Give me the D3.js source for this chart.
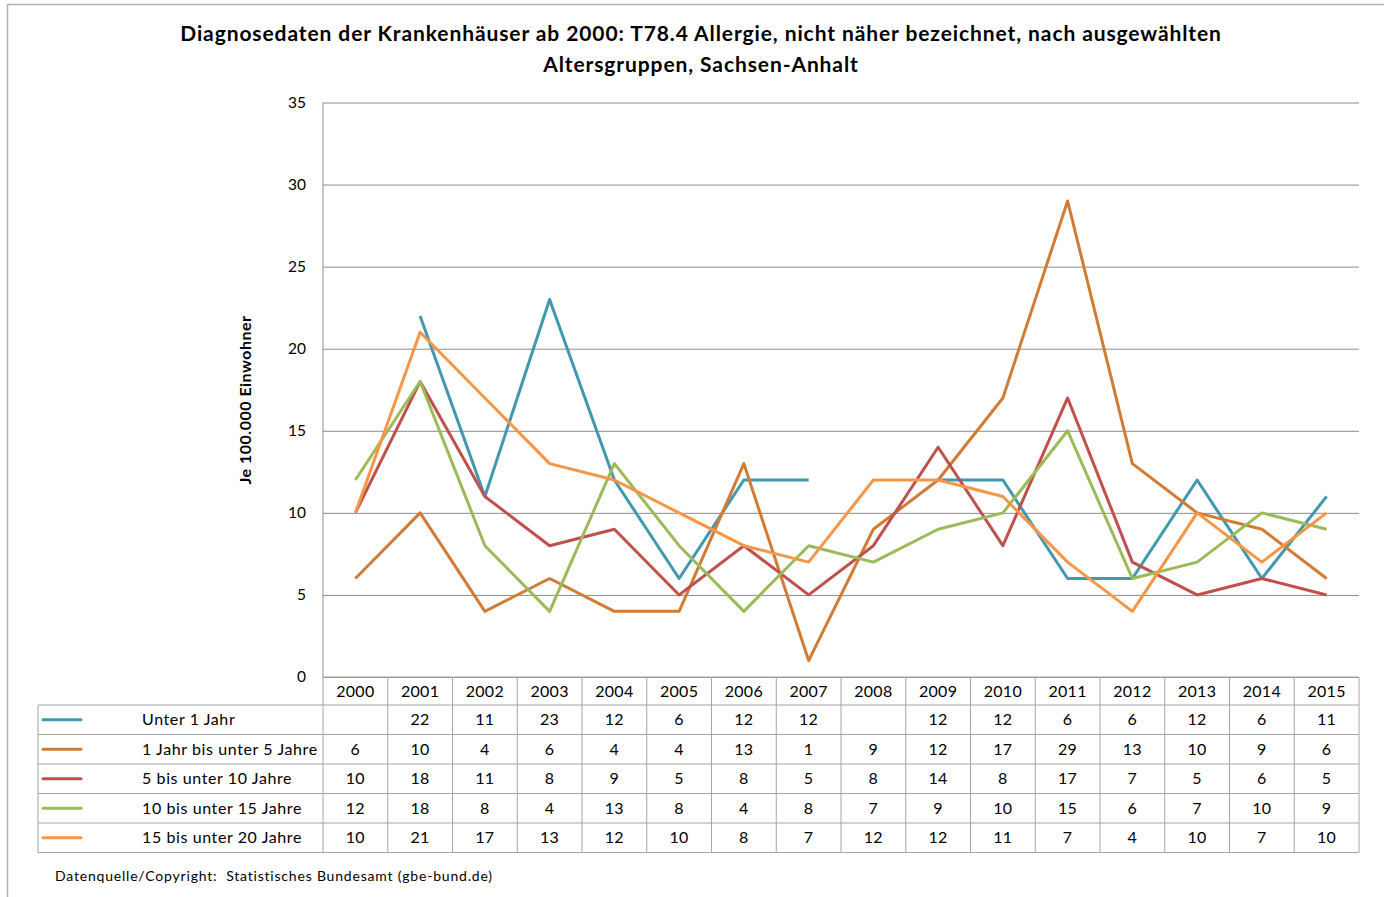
<!DOCTYPE html>
<html><head><meta charset="utf-8">
<script src="https://cdn.jsdelivr.net/npm/d3@7"></script>
<style>
html,body{margin:0;padding:0;background:#fff;}
svg text{font-family:Lato,"Open Sans",sans-serif;}
</style></head>
<body><svg id="chart" width="1384" height="897"></svg>
<script>
const years = ["2000","2001","2002","2003","2004","2005","2006","2007","2008","2009","2010","2011","2012","2013","2014","2015"];
const seriesNames = ["Unter 1 Jahr","1 Jahr bis unter 5 Jahre","5 bis unter 10 Jahre","10 bis unter 15 Jahre","15 bis unter 20 Jahre"];
const unter1 = [null,22,11,23,12,6,12,12,null,12,12,6,6,12,6,11];
const j1bis5 = [6,10,4,6,4,4,13,1,9,12,17,29,13,10,9,6];
const j5bis10 = [10,18,11,8,9,5,8,5,8,14,8,17,7,5,6,5];
const j10bis15 = [12,18,8,4,13,8,4,8,7,9,10,15,6,7,10,9];
const j15bis20 = [10,21,17,13,12,10,8,7,12,12,11,7,4,10,7,10];
const colors = ["#4198AF","#D27B34","#C0504D","#9BBB59","#F79646"];
const yTicks = [0,5,10,15,20,25,30,35];
const titleLines = ["Diagnosedaten der Krankenhäuser ab 2000: T78.4 Allergie, nicht näher bezeichnet, nach ausgewählten","Altersgruppen, Sachsen-Anhalt"];
const yLabel = "Je 100.000 Einwohner";
const source = "Datenquelle/Copyright:  Statistisches Bundesamt (gbe-bund.de)";

const allSeries = [unter1,j1bis5,j5bis10,j10bis15,j15bis20];
const svg = d3.select("#chart");
const gridCol = "#8c8c8c", tableCol = "#a6a6a6";

// outer frame
svg.append("path").attr("d","M7.5,897 L7.5,4.5 L1384,4.5").attr("fill","none").attr("stroke","#b0b0b0").attr("stroke-width",1.5);

const plotL = 323, plotR = 1359, plotT = 102.5, plotB = 677;
const x = d3.scaleBand().domain(years).range([plotL, plotR]);
const y = d3.scaleLinear().domain([0,35]).range([plotB, plotT]);

// title
svg.append("g").selectAll("text").data(titleLines).join("text")
  .attr("x",701).attr("y",(d,i)=>41+i*31).attr("text-anchor","middle")
  .attr("font-size","21px").attr("font-weight","bold").attr("letter-spacing","0.9px").attr("fill","#000").text(d=>d);

// grid
const yAxis = d3.axisLeft(y).tickValues(yTicks).tickSize(-(plotR-plotL)).tickPadding(17).tickFormat(d3.format("d"));
const ga = svg.append("g").attr("transform",`translate(${plotL},0)`).call(yAxis);
ga.select(".domain").remove();
ga.selectAll(".tick line").attr("stroke",gridCol).attr("stroke-width",1);
ga.selectAll(".tick text").attr("font-size","15.5px").attr("fill","#000").attr("font-family","Lato,sans-serif");
// left axis line
svg.append("line").attr("x1",plotL).attr("x2",plotL).attr("y1",plotT).attr("y2",plotB).attr("stroke",gridCol);

// y label
svg.append("text").attr("transform",`translate(251,400) rotate(-90)`).attr("text-anchor","middle")
  .attr("font-size","16px").attr("font-weight","bold").attr("letter-spacing","0.5px").attr("fill","#000").text(yLabel);

// lines
const line = d3.line().defined(d=>d!=null).x((d,i)=>x(years[i])+x.bandwidth()/2).y(d=>y(d));
svg.append("g").selectAll("path").data(allSeries).join("path")
  .attr("d",line).attr("fill","none").attr("stroke",(d,i)=>colors[i]).attr("stroke-width",3).attr("stroke-linejoin","round");

// table
const rowH = 29.5, headT = plotB, headB = 705;
const tLeft = 38;
const rowY = i => headB + i*rowH;
const tbl = svg.append("g");
tbl.append("line").attr("x1",plotL).attr("x2",plotR).attr("y1",headT).attr("y2",headT).attr("stroke",tableCol);
for(let i=0;i<=seriesNames.length;i++){
  tbl.append("line").attr("x1",tLeft).attr("x2",plotR).attr("y1",rowY(i)).attr("y2",rowY(i)).attr("stroke",tableCol);
}
tbl.append("line").attr("x1",tLeft).attr("x2",tLeft).attr("y1",headB).attr("y2",rowY(5)).attr("stroke",tableCol);
years.forEach((yr,i)=>{
  tbl.append("line").attr("x1",x(yr)).attr("x2",x(yr)).attr("y1",headT).attr("y2",rowY(5)).attr("stroke",tableCol);
});
tbl.append("line").attr("x1",plotR).attr("x2",plotR).attr("y1",headT).attr("y2",rowY(5)).attr("stroke",tableCol);
tbl.selectAll("text.yr").data(years).join("text").attr("class","yr")
  .attr("x",d=>x(d)+x.bandwidth()/2).attr("y",(headT+headB)/2+5.5).attr("text-anchor","middle")
  .attr("font-size","16px").attr("letter-spacing","0.3px").attr("fill","#000").text(d=>d);
seriesNames.forEach((name,si)=>{
  const cy = rowY(si)+rowH/2;
  tbl.append("line").attr("x1",43).attr("x2",81).attr("y1",cy).attr("y2",cy).attr("stroke",colors[si]).attr("stroke-width",3).attr("stroke-linecap","round");
  tbl.append("text").attr("x",142).attr("y",cy+5.5).attr("font-size","16px").attr("letter-spacing","0.6px").attr("fill","#000").text(name);
  tbl.append("g").selectAll("text").data(allSeries[si]).join("text")
    .attr("x",(d,i)=>x(years[i])+x.bandwidth()/2).attr("y",cy+5.5).attr("text-anchor","middle")
    .attr("font-size","16px").attr("letter-spacing","0.3px").attr("fill","#000").text(d=>d==null?"":d);
});

// source
svg.append("text").attr("x",55).attr("y",881).attr("font-size","14px").attr("letter-spacing","0.8px").attr("xml:space","preserve").style("white-space","pre").attr("fill","#000").text(source);
</script></body></html>
